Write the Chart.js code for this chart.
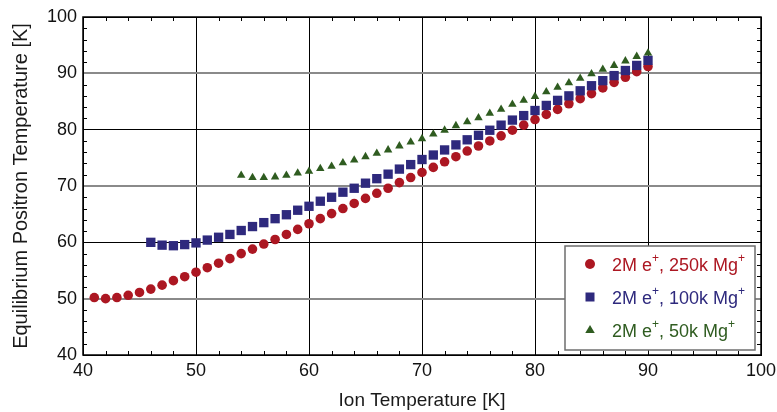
<!DOCTYPE html>
<html>
<head>
<meta charset="utf-8">
<script src="https://cdn.jsdelivr.net/npm/chart.js@4/dist/chart.umd.min.js"></script>
<style>
  html, body { margin: 0; padding: 0; background: #fff; }
  #wrap { width: 777px; height: 412px; }
</style>
</head>
<body>
<div id="wrap"><canvas id="myChart"></canvas></div>
<script>
// ion temperature [K] -> equilibrium positron temperature [K]
const ion250k = [41, 42, 43, 44, 45, 46, 47, 48, 49, 50, 51, 52, 53, 54, 55, 56, 57, 58, 59, 60,
  61, 62, 63, 64, 65, 66, 67, 68, 69, 70, 71, 72, 73, 74, 75, 76, 77, 78, 79, 80,
  81, 82, 83, 84, 85, 86, 87, 88, 89, 90]
const pos250k = [50.2, 50.0, 50.2, 50.6, 51.1, 51.7, 52.4, 53.2, 53.9, 54.7,
  55.5, 56.3, 57.1, 58.0, 58.8, 59.7, 60.5, 61.4, 62.3, 63.3,
  64.2, 65.1, 66.0, 66.9, 67.8, 68.7, 69.6, 70.6, 71.5, 72.4,
  73.3, 74.3, 75.2, 76.2, 77.1, 78.0, 78.9, 79.9, 80.8, 81.8,
  82.7, 83.6, 84.6, 85.5, 86.4, 87.4, 88.4, 89.3, 90.3, 91.2]

const ion100k = [46, 47, 48, 49, 50, 51, 52, 53, 54, 55, 56, 57, 58, 59, 60,
  61, 62, 63, 64, 65, 66, 67, 68, 69, 70, 71, 72, 73, 74, 75, 76, 77, 78, 79, 80,
  81, 82, 83, 84, 85, 86, 87, 88, 89, 90]
const pos100k = [60.0, 59.5, 59.4, 59.6, 59.9,
  60.4, 60.9, 61.4, 62.1, 62.8, 63.5, 64.2, 64.9, 65.7, 66.4,
  67.3, 68.0, 68.9, 69.6, 70.5, 71.3, 72.1, 73.0, 73.8, 74.7,
  75.5, 76.4, 77.3, 78.2, 79.0, 79.9, 80.8, 81.7, 82.5, 83.4,
  84.3, 85.2, 86.0, 86.9, 87.8, 88.7, 89.6, 90.5, 91.4, 92.3]

const ion50k = [54, 55, 56, 57, 58, 59, 60,
  61, 62, 63, 64, 65, 66, 67, 68, 69, 70, 71, 72, 73, 74, 75, 76, 77, 78, 79, 80,
  81, 82, 83, 84, 85, 86, 87, 88, 89, 90]
const pos50k = [71.9, 71.5, 71.5, 71.6, 71.9, 72.3, 72.6,
  73.1, 73.5, 74.1, 74.6, 75.2, 75.8, 76.4, 77.1, 77.8, 78.4,
  79.2, 79.9, 80.7, 81.4, 82.1, 82.9, 83.6, 84.5, 85.2, 85.9,
  86.7, 87.5, 88.3, 89.1, 89.9, 90.7, 91.4, 92.2, 93.0, 93.6]

const seriesNames = [["2M e", "+", ", 250k Mg", "+"], ["2M e", "+", ", 100k Mg", "+"], ["2M e", "+", ", 50k Mg", "+"]]
const seriesColors = ["#ac1722", "#2e297d", "#2f5c20"]
const seriesStyles = ["circle", "rect", "triangle"]

const FONT = "'Liberation Sans', Arial, sans-serif"

const toPoints = (xs, ys) => xs.map((x, i) => ({ x: x, y: ys[i] }))

// frame on top/right + small inward ticks every 2 K on all sides
const framePlugin = {
  id: "framePlugin",
  beforeDatasetsDraw(chart) {
    const { ctx, chartArea: a, scales } = chart
    ctx.save()
    ctx.strokeStyle = "#000"
    ctx.lineWidth = 1
    ctx.beginPath()
    for (let v = 42; v < 100; v += 2) {
      if (v % 10 === 0) continue
      const px = Math.round(scales.x.getPixelForValue(v)) + 0.5
      const py = Math.round(scales.y.getPixelForValue(v)) + 0.5
      ctx.moveTo(px, a.bottom); ctx.lineTo(px, a.bottom - 4)
      ctx.moveTo(px, a.top); ctx.lineTo(px, a.top + 4)
      ctx.moveTo(a.left, py); ctx.lineTo(a.left + 4, py)
      ctx.moveTo(a.right, py); ctx.lineTo(a.right - 4, py)
    }
    ctx.stroke()
    ctx.lineWidth = 1.5
    ctx.strokeRect(a.left, a.top, a.right - a.left, a.bottom - a.top)
    ctx.restore()
  },
}

function marker(ctx, style, x, y, r) {
  ctx.beginPath()
  if (style === "circle") {
    ctx.arc(x, y, r, 0, Math.PI * 2)
  } else if (style === "rect") {
    ctx.rect(x - r, y - r, 2 * r, 2 * r)
  } else {
    ctx.moveTo(x, y - r)
    ctx.lineTo(x + r * 0.95, y + r * 0.6)
    ctx.lineTo(x - r * 0.95, y + r * 0.6)
    ctx.closePath()
  }
  ctx.fill()
}

const legendPlugin = {
  id: "legendPlugin",
  afterDatasetsDraw(chart) {
    const { ctx } = chart
    const box = { x: 565, y: 246, w: 190, h: 104 }
    ctx.save()
    ctx.fillStyle = "#fff"
    ctx.fillRect(box.x, box.y, box.w, box.h)
    ctx.strokeStyle = "#6e6e6e"
    ctx.lineWidth = 1.5
    ctx.strokeRect(box.x, box.y, box.w, box.h)
    const rows = [266, 299, 332]
    const sizes = [5, 4.5, 5]
    seriesNames.forEach((parts, i) => {
      ctx.fillStyle = seriesColors[i]
      marker(ctx, seriesStyles[i], 590, rows[i] - 2, sizes[i])
      let tx = 612
      ctx.textBaseline = "middle"
      parts.forEach((p, j) => {
        const sup = j % 2 === 1
        ctx.font = (sup ? "12px " : "18px ") + FONT
        ctx.fillText(p, tx, sup ? rows[i] - 7 : rows[i])
        tx += ctx.measureText(p).width
      })
    })
    ctx.restore()
  },
}

const data = {
  datasets: [
    {
      label: "2M e+, 250k Mg+",
      data: toPoints(ion250k, pos250k),
      pointStyle: "circle",
      pointRadius: 4.8,
      backgroundColor: seriesColors[0],
      borderColor: seriesColors[0],
      borderWidth: 0,
      order: 3,
    },
    {
      label: "2M e+, 100k Mg+",
      data: toPoints(ion100k, pos100k),
      pointStyle: "rect",
      pointRadius: 6.6,
      backgroundColor: seriesColors[1],
      borderColor: seriesColors[1],
      borderWidth: 0,
      order: 2,
    },
    {
      label: "2M e+, 50k Mg+",
      data: toPoints(ion50k, pos50k),
      pointStyle: "triangle",
      pointRadius: 4.9,
      backgroundColor: seriesColors[2],
      borderColor: seriesColors[2],
      borderWidth: 0,
      order: 1,
    },
  ],
}

const config = {
  type: "scatter",
  data: data,
  options: {
    responsive: true,
    maintainAspectRatio: false,
    animation: false,
    layout: { padding: { top: 17, right: 16, left: 0, bottom: 0 } },
    plugins: { legend: { display: false }, tooltip: { enabled: false } },
    scales: {
      x: {
        type: "linear",
        min: 40,
        max: 100,
        afterFit: (s) => { s.height = 57; s.paddingLeft = 0; s.paddingRight = 0 },
        ticks: { stepSize: 10, padding: 5, color: "#111", font: { family: FONT, size: 18 } },
        grid: { color: "#000", lineWidth: 1, drawTicks: false },
        border: { color: "#000", width: 1 },
        title: {
          display: true,
          text: "Ion Temperature [K]",
          color: "#1a1a1a",
          font: { family: FONT, size: 19 },
          padding: { top: 0, bottom: 0 },
        },
      },
      y: {
        min: 40,
        max: 100,
        afterFit: (s) => { s.width = 83; s.paddingTop = 0; s.paddingBottom = 0 },
        ticks: { stepSize: 10, padding: 6, color: "#111", font: { family: FONT, size: 18 } },
        grid: {
          color: (c) => ([50, 70, 90].includes(c.tick.value) ? "#8a8a8a" : "#000"),
          lineWidth: (c) => ([50, 70, 90].includes(c.tick.value) ? 2 : 1),
          drawTicks: false,
        },
        border: { color: "#000", width: 1 },
        title: {
          display: true,
          text: "Equilibrium Positron Temperature [K]",
          color: "#1a1a1a",
          font: { family: FONT, size: 20 },
          padding: { top: 9, bottom: 0 },
        },
      },
    },
  },
  plugins: [framePlugin, legendPlugin],
}

const myChart = new Chart(document.getElementById("myChart"), config)
</script>
</body>
</html>
